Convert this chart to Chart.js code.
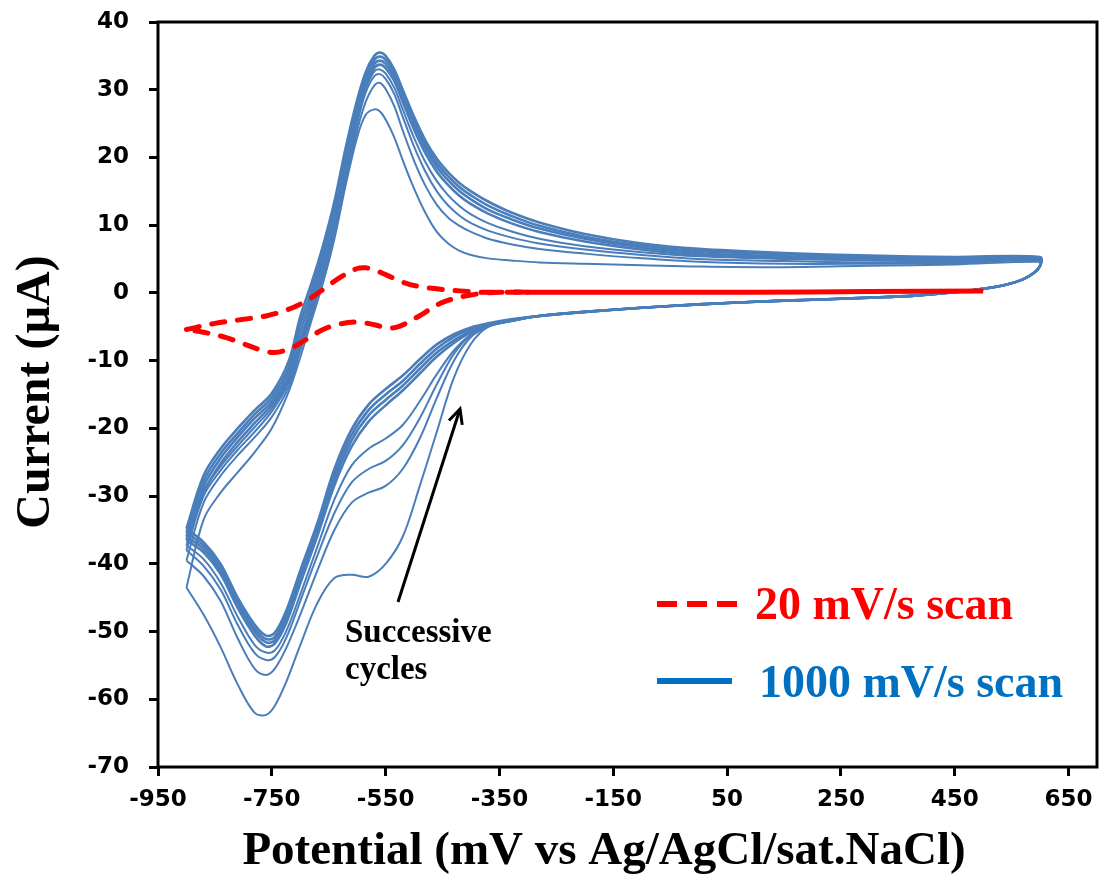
<!DOCTYPE html>
<html>
<head>
<meta charset="utf-8">
<script src="https://cdn.jsdelivr.net/npm/chart.js@4.4.1/dist/chart.umd.min.js"></script>
<style>
  html, body { margin: 0; padding: 0; background: #fff; }
  #wrap { width: 1099px; height: 896px; }
</style>
</head>
<body>
<div id="wrap"><canvas id="cvChart" width="1099" height="896"></canvas></div>
<script>
// Axis ticks
const xTicks = [-950, -750, -550, -350, -150, 50, 250, 450, 650];
const yTicks = [-70, -60, -50, -40, -30, -20, -10, 0, 10, 20, 30, 40];

// Potential grids (mV) for the 1000 mV/s cycles
const fwdPotential = [-900, -870, -840, -810, -780, -750, -720, -700, -680, -660,
  -640, -620, -600, -585, -570, -560, -550, -535, -520, -500,
  -480, -460, -440, -420, -400, -370, -330, -280, -200, -100,
  0, 150, 300, 450, 600];
const revPotential = [600, 590, 570, 540, 500, 450, 380, 300, 200, 100,
  0, -100, -200, -280,
  -330, -370, -400, -430, -460, -490, -520, -550, -580, -610,
  -640, -670, -700, -725, -745, -760, -780, -810, -840, -870, -900];

// reverse scan, 600 .. -280 mV: all cycles lie on top of each other here
const revCommon = [4.0, 3.0, 2.0, 1.2, 0.6, 0.1, -0.4, -0.7, -1.0, -1.3, -1.7, -2.2, -2.8, -3.4];

// Current (uA), forward scans
const c1Fwd = [-43.5, -33.5, -29.5, -26.5, -23.5, -20.0, -14.5, -9.5, -4.0, 1.5,
  8.0, 16.0, 23.0, 26.3, 27.1, 26.8, 25.6, 23.0, 19.6, 15.4,
  11.8, 9.0, 7.3, 6.2, 5.6, 5.1, 4.8, 4.5, 4.3, 4.1,
  3.9, 3.8, 4.0, 4.2, 4.6];
const c2Fwd = [-39.5, -31.0, -27.0, -24.0, -21.3, -18.3, -13.8, -8.5, -3.3, 2.3,
  8.5, 16.5, 24.0, 28.2, 30.6, 31.0, 30.1, 27.6, 24.0, 19.5,
  15.8, 13.0, 11.1, 9.9, 9.0, 8.0, 7.2, 6.5, 5.8, 5.1,
  4.6, 4.3, 4.3, 4.4, 4.8];
const c3Fwd = [-38.0, -30.0, -26.2, -23.2, -20.5, -17.5, -13.2, -8.0, -2.8, 3.0,
  9.3, 17.2, 25.0, 29.6, 32.0, 32.3, 31.6, 29.4, 26.0, 21.6,
  17.9, 15.0, 12.9, 11.4, 10.3, 9.2, 8.2, 7.3, 6.4, 5.6,
  5.0, 4.7, 4.5, 4.5, 4.9];
const c4Fwd = [-37.3, -29.3, -25.6, -22.6, -19.8, -17.0, -12.9, -7.5, -2.3, 3.5,
  10.0, 18.0, 25.8, 30.2, 32.7, 33.0, 32.4, 30.3, 27.1, 22.9,
  19.3, 16.5, 14.4, 12.8, 11.6, 10.3, 9.1, 8.0, 6.9, 6.0,
  5.4, 5.0, 4.8, 4.7, 5.0];
const c5Fwd = [-36.5, -29.5, -25.2, -22.0, -19.2, -16.5, -12.5, -7.0, -1.5, 4.5,
  11.0, 18.8, 26.5, 30.6, 33.2, 33.7, 33.2, 31.3, 28.2, 24.1,
  20.6, 17.9, 15.9, 14.3, 13.1, 11.7, 10.3, 9.0, 7.6, 6.4,
  5.6, 5.2, 4.9, 4.8, 5.0];
const c6Fwd = [-36.0, -28.6, -24.4, -21.3, -18.5, -16.0, -11.7, -5.8, -0.5, 5.2,
  11.8, 19.8, 27.2, 31.3, 33.8, 34.3, 33.8, 31.9, 28.9, 24.8,
  21.3, 18.6, 16.6, 15.0, 13.8, 12.3, 10.9, 9.5, 8.0, 6.7,
  5.9, 5.4, 5.1, 5.0, 5.1];
const c7Fwd = [-35.4, -27.8, -23.7, -20.7, -17.9, -15.4, -10.9, -4.6, 0.4, 6.0,
  12.6, 20.6, 27.9, 31.9, 34.4, 34.9, 34.4, 32.5, 29.5, 25.4,
  21.9, 19.2, 17.2, 15.6, 14.4, 12.9, 11.4, 9.9, 8.3, 7.0,
  6.2, 5.7, 5.3, 5.1, 5.2];
const c8Fwd = [-34.8, -27.0, -23.0, -20.0, -17.3, -14.8, -10.0, -3.5, 1.5, 7.0,
  13.5, 21.5, 28.5, 32.6, 35.0, 35.5, 35.0, 33.0, 30.0, 26.0,
  22.5, 19.8, 17.8, 16.2, 15.0, 13.5, 11.9, 10.4, 8.7, 7.3,
  6.5, 5.9, 5.5, 5.3, 5.3];

// Current (uA), reverse scans from -330 to -900 mV
const c1Rev = [-4.2, -5.0, -7.5, -12.5, -20.5, -28.5, -36.0, -40.0, -41.9, -41.6,
  -42.1, -45.8, -52.0, -57.5, -61.0, -62.3, -62.0, -57.8, -52.3, -47.5, -43.5];
const c2Rev = [-4.2, -5.0, -6.5, -10.0, -15.5, -21.5, -26.0, -28.5, -29.5, -31.0,
  -35.0, -41.0, -47.5, -52.5, -55.5, -56.4, -55.5, -51.0, -45.5, -41.8, -39.5];
const c3Rev = [-4.1, -4.9, -6.2, -9.0, -13.5, -18.5, -22.5, -24.8, -26.0, -28.0,
  -32.5, -38.8, -45.5, -51.0, -53.8, -54.2, -53.2, -49.0, -43.8, -40.3, -38.0];
const c4Rev = [-4.1, -4.9, -6.1, -8.5, -12.0, -16.0, -19.5, -21.5, -23.0, -25.5,
  -30.5, -37.5, -44.5, -50.0, -52.8, -53.1, -52.0, -47.8, -42.8, -39.3, -37.3];
const c5Rev = [-4.1, -4.8, -5.8, -7.4, -9.4, -11.9, -14.4, -16.6, -19.0, -22.7,
  -28.4, -35.9, -42.9, -48.8, -51.8, -52.2, -50.6, -46.5, -41.5, -38.3, -36.5];
const c6Rev = [-4.0, -4.7, -5.6, -7.0, -8.8, -11.2, -13.7, -15.8, -18.1, -21.8,
  -27.6, -35.3, -42.3, -48.2, -51.3, -51.6, -50.0, -46.0, -41.0, -37.8, -36.0];
const c7Rev = [-4.0, -4.6, -5.3, -6.5, -8.2, -10.5, -13.0, -15.0, -17.3, -21.0,
  -26.8, -34.7, -41.7, -47.6, -50.8, -51.1, -49.5, -45.5, -40.5, -37.3, -35.4];
const c8Rev = [-3.9, -4.5, -5.1, -6.1, -7.6, -9.8, -12.2, -14.2, -16.5, -20.2,
  -26.0, -34.0, -41.0, -47.0, -50.2, -50.6, -49.0, -45.0, -40.0, -36.8, -34.8];

// 20 mV/s scan
const slowFwdPotential = [-900, -850, -800, -760, -720, -690, -660, -630, -600, -585,
  -570, -550, -520, -495, -460, -420, -380, -300, -100, 100, 300, 500];
const slowFwdCurrent = [-5.4, -4.5, -3.9, -3.4, -2.4, -1.2, 0.5, 2.3, 3.6, 3.7,
  3.4, 2.7, 1.6, 1.0, 0.6, 0.3, 0.1, 0.1, 0.1, 0.1, 0.2, 0.3];
const slowRevPotential = [500, 300, 100, -100, -300, -350, -400, -450, -495, -525,
  -545, -570, -600, -630, -660, -690, -715, -745, -770, -800, -830, -870, -900];
const slowRevCurrent = [0.3, 0.2, 0.1, 0.1, 0.1, 0.1, -0.3, -1.4, -3.6, -4.9,
  -5.2, -4.7, -4.3, -4.6, -5.4, -6.9, -8.1, -8.8, -8.4, -7.5, -6.6, -5.8, -5.4];

// early cycles are drawn thin, the later ones pile up into a thick band
const cycles = [
  [c1Fwd, c1Rev], [c2Fwd, c2Rev], [c3Fwd, c3Rev], [c4Fwd, c4Rev],
  [c5Fwd, c5Rev], [c6Fwd, c6Rev], [c7Fwd, c7Rev], [c8Fwd, c8Rev]
];
const cycleWidths = [2, 2, 2, 2, 2.6, 2.6, 2.6, 2.6];

function toPoints(xs, ys) {
  return xs.map((x, i) => ({ x: x, y: ys[i] }));
}

function cyclePoints(fwd, revLow) {
  const rev = revCommon.concat(revLow);
  return toPoints(fwdPotential, fwd).concat(toPoints(revPotential, rev));
}

const BLUE = '#4A7EBB';
const RED = '#FF0000';
const DASH = [13, 13];

const datasets = cycles.map((c, i) => ({
  data: cyclePoints(c[0], c[1]),
  borderColor: BLUE,
  borderWidth: cycleWidths[i],
  pointRadius: 0,
  showLine: true,
  tension: 0.35,
  order: 1
}));

// where both sweeps of the slow scan run together the dashes merge into a solid line
datasets.push({
  data: toPoints(slowFwdPotential, slowFwdCurrent).concat(toPoints(slowRevPotential, slowRevCurrent)),
  borderColor: RED,
  borderWidth: 5,
  borderDash: DASH,
  borderCapStyle: 'round',
  segment: {
    borderDash: ctx => (ctx.p0.parsed.x >= -330 && ctx.p1.parsed.x >= -330) ? [] : DASH
  },
  pointRadius: 0,
  showLine: true,
  tension: 0.35,
  order: 0
});

// Border, titles, legend and the annotation
const decorations = {
  id: 'decorations',
  afterDraw(chart) {
    const ctx = chart.ctx;
    const a = chart.chartArea;
    ctx.save();

    ctx.strokeStyle = '#000';
    ctx.lineWidth = 3;
    ctx.strokeRect(a.left, a.top, a.right - a.left, a.bottom - a.top);

    // axis titles
    ctx.fillStyle = '#000';
    ctx.font = 'bold 47px "Liberation Serif"';
    ctx.textAlign = 'center';
    ctx.textBaseline = 'alphabetic';
    ctx.fillText('Potential (mV vs Ag/AgCl/sat.NaCl)', 604, 864);

    ctx.save();
    ctx.translate(37, 392);
    ctx.rotate(-Math.PI / 2);
    ctx.font = 'bold 48px "Liberation Serif"';
    ctx.textBaseline = 'middle';
    ctx.fillText('Current (\u00b5A)', 0, 0);
    ctx.restore();

    // legend
    ctx.lineWidth = 6;
    ctx.strokeStyle = RED;
    ctx.setLineDash([20, 10]);
    ctx.beginPath();
    ctx.moveTo(657, 604);
    ctx.lineTo(740, 604);
    ctx.stroke();
    ctx.setLineDash([]);
    ctx.strokeStyle = '#0070C0';
    ctx.beginPath();
    ctx.moveTo(657, 681);
    ctx.lineTo(732, 681);
    ctx.stroke();

    ctx.font = 'bold 46px "Liberation Serif"';
    ctx.textAlign = 'left';
    ctx.fillStyle = RED;
    ctx.fillText('20 mV/s scan', 755, 619);
    ctx.fillStyle = '#0070C0';
    ctx.fillText('1000 mV/s scan', 759, 697);

    // annotation
    ctx.fillStyle = '#000';
    ctx.font = 'bold 33px "Liberation Serif"';
    ctx.fillText('Successive', 345, 642);
    ctx.fillText('cycles', 345, 679);

    const x0 = 398, y0 = 602, x1 = 460, y1 = 409;
    const ang = Math.atan2(y1 - y0, x1 - x0);
    ctx.strokeStyle = '#000';
    ctx.lineWidth = 3;
    ctx.beginPath();
    ctx.moveTo(x0, y0);
    ctx.lineTo(x1, y1);
    ctx.stroke();
    ctx.beginPath();
    ctx.moveTo(x1 - 16 * Math.cos(ang - 0.45), y1 - 16 * Math.sin(ang - 0.45));
    ctx.lineTo(x1, y1);
    ctx.lineTo(x1 - 16 * Math.cos(ang + 0.45), y1 - 16 * Math.sin(ang + 0.45));
    ctx.stroke();

    ctx.restore();
  }
};

const tickFont = { family: 'DejaVu Sans', weight: 'bold', size: 23 };
const tickGrid = { drawOnChartArea: false, drawTicks: true, tickLength: 9, tickColor: '#000', tickWidth: 3 };

new Chart(document.getElementById('cvChart'), {
  type: 'scatter',
  data: { datasets: datasets },
  options: {
    responsive: false,
    animation: false,
    layout: { padding: { top: 22, right: 2, left: 0, bottom: 0 } },
    plugins: { legend: { display: false }, tooltip: { enabled: false } },
    scales: {
      x: {
        type: 'linear',
        min: -950,
        max: 700,
        afterFit: s => { s.height = 129; s.paddingLeft = 0; s.paddingRight = 0; },
        afterBuildTicks: s => { s.ticks = xTicks.map(v => ({ value: v })); },
        grid: tickGrid,
        border: { display: false },
        ticks: { font: tickFont, color: '#000', padding: 10, autoSkip: false, maxRotation: 0, callback: v => String(v) }
      },
      y: {
        type: 'linear',
        min: -70,
        max: 40,
        afterFit: s => { s.width = 158; s.paddingTop = 0; s.paddingBottom = 0; },
        afterBuildTicks: s => { s.ticks = yTicks.map(v => ({ value: v })); },
        grid: tickGrid,
        border: { display: false },
        ticks: { font: tickFont, color: '#000', padding: 20, autoSkip: false, callback: v => String(v) }
      }
    }
  },
  plugins: [decorations]
});
</script>
</body>
</html>
